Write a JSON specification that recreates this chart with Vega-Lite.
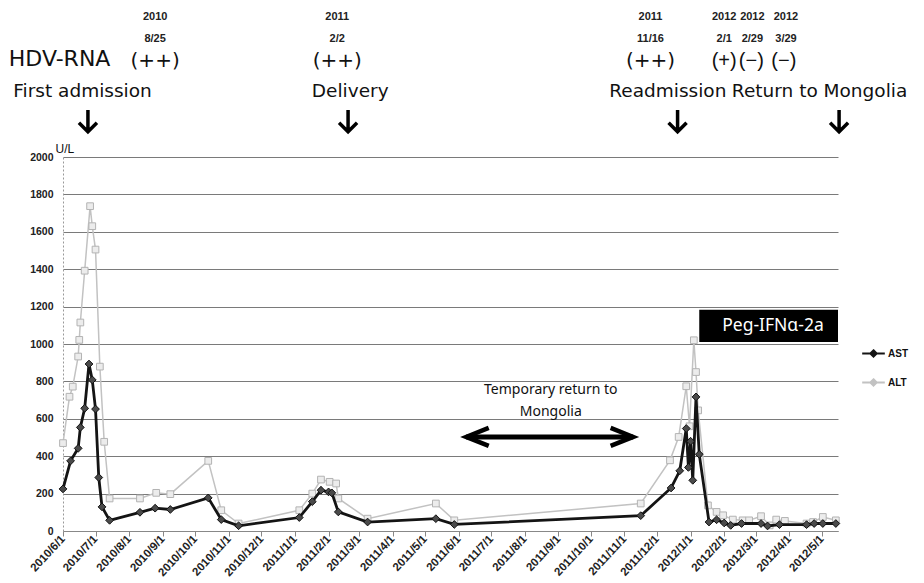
{
  "$schema": "https://vega.github.io/schema/vega-lite/v6.json",
  "width": 775,
  "height": 374,
  "autosize": {"type": "none"},
  "padding": {"left": 63, "top": 157, "right": 86, "bottom": 52},
  "background": "white",
  "config": {
    "view": {"stroke": null},
    "legend": {
      "orient": "none", "legendX": 802, "legendY": 188, "title": null, "padding": 0,
      "symbolType": "M-1.6,0L1.6,0M0,-0.45L0.45,0L0,0.45L-0.45,0Z",
      "symbolSize": 200, "symbolStrokeWidth": 2, "labelOffset": 6,
      "labelFont": "Liberation Sans", "labelFontWeight": "bold", "labelFontSize": 10, "labelColor": "#111",
      "rowPadding": 13
    }
  },
  "datasets": {
    "lab": [
      {"date":"2010-06-01","test":"AST","value":225},{"date":"2010-06-08","test":"AST","value":375},{"date":"2010-06-15","test":"AST","value":442},{"date":"2010-06-17","test":"AST","value":554},{"date":"2010-06-21","test":"AST","value":656},{"date":"2010-06-25","test":"AST","value":893},{"date":"2010-06-28","test":"AST","value":808},{"date":"2010-07-01","test":"AST","value":652},{"date":"2010-07-04","test":"AST","value":286},{"date":"2010-07-07","test":"AST","value":129},{"date":"2010-07-14","test":"AST","value":57},{"date":"2010-08-11","test":"AST","value":100},{"date":"2010-08-25","test":"AST","value":122},{"date":"2010-09-08","test":"AST","value":115},{"date":"2010-10-13","test":"AST","value":177},{"date":"2010-10-25","test":"AST","value":61},{"date":"2010-11-10","test":"AST","value":28},{"date":"2011-01-05","test":"AST","value":72},{"date":"2011-01-17","test":"AST","value":157},{"date":"2011-01-25","test":"AST","value":218},{"date":"2011-02-01","test":"AST","value":209},{"date":"2011-02-04","test":"AST","value":204},{"date":"2011-02-10","test":"AST","value":102},{"date":"2011-03-09","test":"AST","value":48},{"date":"2011-05-11","test":"AST","value":66},{"date":"2011-05-28","test":"AST","value":35},{"date":"2011-11-16","test":"AST","value":82},{"date":"2011-12-14","test":"AST","value":230},{"date":"2011-12-22","test":"AST","value":322},{"date":"2011-12-28","test":"AST","value":548},{"date":"2011-12-30","test":"AST","value":340},{"date":"2012-01-01","test":"AST","value":480},{"date":"2012-01-03","test":"AST","value":271},{"date":"2012-01-06","test":"AST","value":717},{"date":"2012-01-09","test":"AST","value":410},{"date":"2012-01-18","test":"AST","value":48},{"date":"2012-01-25","test":"AST","value":60},{"date":"2012-02-01","test":"AST","value":43},{"date":"2012-02-07","test":"AST","value":30},{"date":"2012-02-17","test":"AST","value":40},{"date":"2012-03-06","test":"AST","value":40},{"date":"2012-03-12","test":"AST","value":27},{"date":"2012-03-23","test":"AST","value":34},{"date":"2012-04-17","test":"AST","value":34},{"date":"2012-04-24","test":"AST","value":40},{"date":"2012-05-02","test":"AST","value":40},{"date":"2012-05-14","test":"AST","value":40},
      {"date":"2010-06-01","test":"ALT","value":470},{"date":"2010-06-07","test":"ALT","value":718},{"date":"2010-06-10","test":"ALT","value":772},{"date":"2010-06-15","test":"ALT","value":933},{"date":"2010-06-16","test":"ALT","value":1022},{"date":"2010-06-17","test":"ALT","value":1115},{"date":"2010-06-21","test":"ALT","value":1392},{"date":"2010-06-26","test":"ALT","value":1737},{"date":"2010-06-28","test":"ALT","value":1630},{"date":"2010-07-01","test":"ALT","value":1505},{"date":"2010-07-05","test":"ALT","value":879},{"date":"2010-07-09","test":"ALT","value":477},{"date":"2010-07-14","test":"ALT","value":174},{"date":"2010-08-11","test":"ALT","value":174},{"date":"2010-08-26","test":"ALT","value":204},{"date":"2010-09-08","test":"ALT","value":197},{"date":"2010-10-13","test":"ALT","value":375},{"date":"2010-10-25","test":"ALT","value":111},{"date":"2010-11-10","test":"ALT","value":40},{"date":"2011-01-05","test":"ALT","value":111},{"date":"2011-01-17","test":"ALT","value":200},{"date":"2011-01-25","test":"ALT","value":275},{"date":"2011-02-02","test":"ALT","value":263},{"date":"2011-02-08","test":"ALT","value":254},{"date":"2011-02-10","test":"ALT","value":174},{"date":"2011-03-09","test":"ALT","value":66},{"date":"2011-05-11","test":"ALT","value":147},{"date":"2011-05-28","test":"ALT","value":57},{"date":"2011-11-16","test":"ALT","value":147},{"date":"2011-12-13","test":"ALT","value":378},{"date":"2011-12-21","test":"ALT","value":503},{"date":"2011-12-28","test":"ALT","value":774},{"date":"2011-12-31","test":"ALT","value":560},{"date":"2012-01-04","test":"ALT","value":1020},{"date":"2012-01-06","test":"ALT","value":850},{"date":"2012-01-08","test":"ALT","value":645},{"date":"2012-01-17","test":"ALT","value":137},{"date":"2012-01-25","test":"ALT","value":102},{"date":"2012-01-31","test":"ALT","value":84},{"date":"2012-02-09","test":"ALT","value":61},{"date":"2012-02-18","test":"ALT","value":57},{"date":"2012-02-24","test":"ALT","value":57},{"date":"2012-03-06","test":"ALT","value":79},{"date":"2012-03-14","test":"ALT","value":30},{"date":"2012-03-20","test":"ALT","value":61},{"date":"2012-03-28","test":"ALT","value":54},{"date":"2012-04-17","test":"ALT","value":40},{"date":"2012-04-23","test":"ALT","value":48},{"date":"2012-05-02","test":"ALT","value":75},{"date":"2012-05-14","test":"ALT","value":57}
    ],
    "notes": [
      {"kind":"year","date":"2010-08-25","y":2750,"text":"2010"},
      {"kind":"year","date":"2011-02-09","y":2750,"text":"2011"},
      {"kind":"year","date":"2011-11-25","y":2750,"text":"2011"},
      {"kind":"year","date":"2012-02-01","y":2750,"text":"2012"},
      {"kind":"year","date":"2012-02-27","y":2750,"text":"2012"},
      {"kind":"year","date":"2012-03-29","y":2750,"text":"2012"},
      {"kind":"year","date":"2010-08-25","y":2631,"text":"8/25"},
      {"kind":"year","date":"2011-02-09","y":2631,"text":"2/2"},
      {"kind":"year","date":"2011-11-25","y":2631,"text":"11/16"},
      {"kind":"year","date":"2012-02-01","y":2631,"text":"2/1"},
      {"kind":"year","date":"2012-02-27","y":2631,"text":"2/29"},
      {"kind":"year","date":"2012-03-29","y":2631,"text":"3/29"},
      {"kind":"res","date":"2010-08-25","y":2515,"text":"(++)"},
      {"kind":"res","date":"2011-02-09","y":2515,"text":"(++)"},
      {"kind":"res","date":"2011-11-25","y":2515,"text":"(++)"},
      {"kind":"res1","date":"2012-02-01","y":2515,"text":"(+)"},
      {"kind":"res1","date":"2012-02-26","y":2515,"text":"(−)"},
      {"kind":"res1","date":"2012-03-27","y":2515,"text":"(−)"},
      {"kind":"hdv","date":"2010-04-12","y":2522,"text":"HDV-RNA"},
      {"kind":"event","date":"2010-06-19","y":2353,"text":"First admission"},
      {"kind":"event","date":"2011-02-21","y":2353,"text":"Delivery"},
      {"kind":"event","date":"2011-12-11","y":2353,"text":"Readmission"},
      {"kind":"event","date":"2012-04-29","y":2353,"text":"Return to Mongolia"},
      {"kind":"arrow","date":"2010-06-24","y":2193,"text":""},
      {"kind":"arrow","date":"2011-02-19","y":2193,"text":""},
      {"kind":"arrow","date":"2011-12-20","y":2193,"text":""},
      {"kind":"arrow","date":"2012-05-17","y":2193,"text":""},
      {"kind":"temp","date":"2011-08-25","y":754,"text":"Temporary return to"},
      {"kind":"temp","date":"2011-08-25","y":636,"text":"Mongolia"},
      {"kind":"peg","date":"2012-03-17","y":1096,"text":"Peg-IFNα-2a"},
      {"kind":"headL","date":"2011-06-08","y":503,"text":""},
      {"kind":"headR","date":"2011-11-09","y":503,"text":""}
    ],
    "spans": [
      {"kind":"box","start":"2012-01-09","end":"2012-05-16","lo":1011,"hi":1183},
      {"kind":"trip","start":"2011-06-08","end":"2011-11-09","lo":503,"hi":503}
    ]
  },
  "encoding": {
    "x": {
      "field": "date", "type": "temporal",
      "scale": {"type": "utc", "domain": [{"year":2010,"month":6,"date":1,"utc":true},{"year":2012,"month":5,"date":16,"utc":true}]},
      "axis": {
        "title": null, "format": "%Y/%-m/%-d", "labelAngle": -47, "grid": false,
        "values": [
          {"year":2010,"month":6,"date":1,"utc":true},{"year":2010,"month":7,"date":1,"utc":true},{"year":2010,"month":8,"date":1,"utc":true},{"year":2010,"month":9,"date":1,"utc":true},{"year":2010,"month":10,"date":1,"utc":true},{"year":2010,"month":11,"date":1,"utc":true},{"year":2010,"month":12,"date":1,"utc":true},
          {"year":2011,"month":1,"date":1,"utc":true},{"year":2011,"month":2,"date":1,"utc":true},{"year":2011,"month":3,"date":1,"utc":true},{"year":2011,"month":4,"date":1,"utc":true},{"year":2011,"month":5,"date":1,"utc":true},{"year":2011,"month":6,"date":1,"utc":true},{"year":2011,"month":7,"date":1,"utc":true},{"year":2011,"month":8,"date":1,"utc":true},{"year":2011,"month":9,"date":1,"utc":true},{"year":2011,"month":10,"date":1,"utc":true},{"year":2011,"month":11,"date":1,"utc":true},{"year":2011,"month":12,"date":1,"utc":true},
          {"year":2012,"month":1,"date":1,"utc":true},{"year":2012,"month":2,"date":1,"utc":true},{"year":2012,"month":3,"date":1,"utc":true},{"year":2012,"month":4,"date":1,"utc":true},{"year":2012,"month":5,"date":1,"utc":true}
        ],
        "labelFont": "Liberation Sans", "labelFontWeight": "bold", "labelFontSize": 11.5, "labelColor": "#222",
        "labelOverlap": false, "labelFlush": false, "labelBound": false, "labelPadding": 1,
        "tickSize": 5, "tickColor": "#888", "domainColor": "#888"
      }
    },
    "y": {
      "field": "value", "type": "quantitative",
      "scale": {"domain": [0, 2000], "nice": false, "zero": true},
      "axis": {
        "values": [0,200,400,600,800,1000,1200,1400,1600,1800,2000], "format": "d",
        "title": "U/L", "titleAngle": 0, "titleX": -8, "titleY": -9, "titleAlign": "left", "titleBaseline": "middle",
        "titleFont": "Liberation Sans", "titleFontSize": 12, "titleFontWeight": "normal", "titleColor": "#111",
        "labelFont": "Liberation Sans", "labelFontWeight": "bold", "labelFontSize": 10.5, "labelColor": "#222",
        "ticks": false, "labelPadding": 10, "domainColor": "#999", "domainDash": [2, 2],
        "gridColor": "#7a7a7a", "gridWidth": 1
      }
    }
  },
  "layer": [
    {
      "data": {"name": "lab"},
      "transform": [{"filter": "datum.test === 'ALT'"}],
      "mark": {"type": "line", "strokeWidth": 1.5},
      "encoding": {
        "color": {"field": "test", "type": "nominal",
          "scale": {"domain": ["AST", "ALT"], "range": ["#141414", "#c2c2c2"]},
          "legend": {"encode": {"symbols": {"update": {"fill": {"scale": "color", "field": "value"}}}}}}
      }
    },
    {
      "data": {"name": "lab"},
      "transform": [{"filter": "datum.test === 'ALT'"}],
      "mark": {"type": "point", "shape": "square", "filled": true, "fill": "#ececec", "stroke": "#b3b3b3", "strokeWidth": 1, "size": 45, "opacity": 1}
    },
    {
      "data": {"name": "lab"},
      "transform": [{"filter": "datum.test === 'AST'"}],
      "mark": {"type": "line", "strokeWidth": 2.8},
      "encoding": {"color": {"field": "test", "type": "nominal"}}
    },
    {
      "data": {"name": "lab"},
      "transform": [{"filter": "datum.test === 'AST'"}],
      "mark": {"type": "point", "shape": "diamond", "filled": true, "fill": "#4a4a4a", "stroke": "#111", "strokeWidth": 1, "size": 60, "opacity": 1}
    },
    {
      "data": {"name": "spans"},
      "transform": [{"filter": "datum.kind === 'box'"}],
      "mark": {"type": "rect", "color": "#000", "clip": false},
      "encoding": {
        "x": {"field": "start", "type": "temporal"},
        "x2": {"field": "end"},
        "y": {"field": "lo", "type": "quantitative"},
        "y2": {"field": "hi"}
      }
    },
    {
      "data": {"name": "spans"},
      "transform": [{"filter": "datum.kind === 'trip'"}],
      "mark": {"type": "rule", "color": "#000", "strokeWidth": 5},
      "encoding": {
        "x": {"field": "start", "type": "temporal"},
        "x2": {"field": "end"},
        "y": {"field": "lo", "type": "quantitative"}
      }
    },
    {
      "data": {"name": "notes"},
      "transform": [{"filter": "datum.kind === 'headL'"}],
      "mark": {"type": "point", "shape": "M2.5,-1L0,0L2.5,1", "filled": false, "stroke": "#000", "strokeWidth": 4.5, "size": 324, "opacity": 1},
      "encoding": {"y": {"field": "y", "type": "quantitative"}}
    },
    {
      "data": {"name": "notes"},
      "transform": [{"filter": "datum.kind === 'headR'"}],
      "mark": {"type": "point", "shape": "M-2.5,-1L0,0L-2.5,1", "filled": false, "stroke": "#000", "strokeWidth": 4.5, "size": 324, "opacity": 1},
      "encoding": {"y": {"field": "y", "type": "quantitative"}}
    },
    {
      "data": {"name": "notes"},
      "transform": [{"filter": "datum.kind === 'arrow'"}],
      "mark": {"type": "point", "shape": "M0,-1.8L0,1.7M-1.5,0.3L0,1.8L1.5,0.3", "filled": false, "stroke": "#000", "strokeWidth": 3.5, "size": 144, "opacity": 1, "clip": false},
      "encoding": {"y": {"field": "y", "type": "quantitative"}}
    },
    {
      "data": {"name": "notes"},
      "transform": [{"filter": "datum.kind === 'year'"}],
      "mark": {"type": "text", "font": "Liberation Sans", "fontWeight": "bold", "fontSize": 11, "color": "#222", "baseline": "middle", "align": "center", "clip": false},
      "encoding": {"y": {"field": "y", "type": "quantitative"}, "text": {"field": "text"}}
    },
    {
      "data": {"name": "notes"},
      "transform": [{"filter": "datum.kind === 'res'"}],
      "mark": {"type": "text", "font": "DejaVu Sans", "fontSize": 20, "color": "#111", "baseline": "middle", "align": "center", "clip": false},
      "encoding": {"y": {"field": "y", "type": "quantitative"}, "text": {"field": "text"}}
    },
    {
      "data": {"name": "notes"},
      "transform": [{"filter": "datum.kind === 'res1'"}],
      "mark": {"type": "text", "font": "Liberation Sans", "fontSize": 20, "color": "#111", "baseline": "middle", "align": "center", "clip": false},
      "encoding": {"y": {"field": "y", "type": "quantitative"}, "text": {"field": "text"}}
    },
    {
      "data": {"name": "notes"},
      "transform": [{"filter": "datum.kind === 'hdv'"}],
      "mark": {"type": "text", "font": "DejaVu Sans", "fontSize": 22, "color": "#111", "baseline": "middle", "align": "left", "clip": false},
      "encoding": {"y": {"field": "y", "type": "quantitative"}, "text": {"field": "text"}}
    },
    {
      "data": {"name": "notes"},
      "transform": [{"filter": "datum.kind === 'event'"}],
      "mark": {"type": "text", "font": "DejaVu Sans", "fontSize": 18.5, "color": "#111", "baseline": "middle", "align": "center", "clip": false},
      "encoding": {"y": {"field": "y", "type": "quantitative"}, "text": {"field": "text"}}
    },
    {
      "data": {"name": "notes"},
      "transform": [{"filter": "datum.kind === 'temp'"}],
      "mark": {"type": "text", "font": "Noto Sans", "fontSize": 14, "color": "#111", "baseline": "middle", "align": "center", "clip": false},
      "encoding": {"y": {"field": "y", "type": "quantitative"}, "text": {"field": "text"}}
    },
    {
      "data": {"name": "notes"},
      "transform": [{"filter": "datum.kind === 'peg'"}],
      "mark": {"type": "text", "font": "Noto Sans", "fontSize": 17.5, "color": "#fff", "baseline": "middle", "align": "center", "clip": false},
      "encoding": {"y": {"field": "y", "type": "quantitative"}, "text": {"field": "text"}}
    }
  ]
}
